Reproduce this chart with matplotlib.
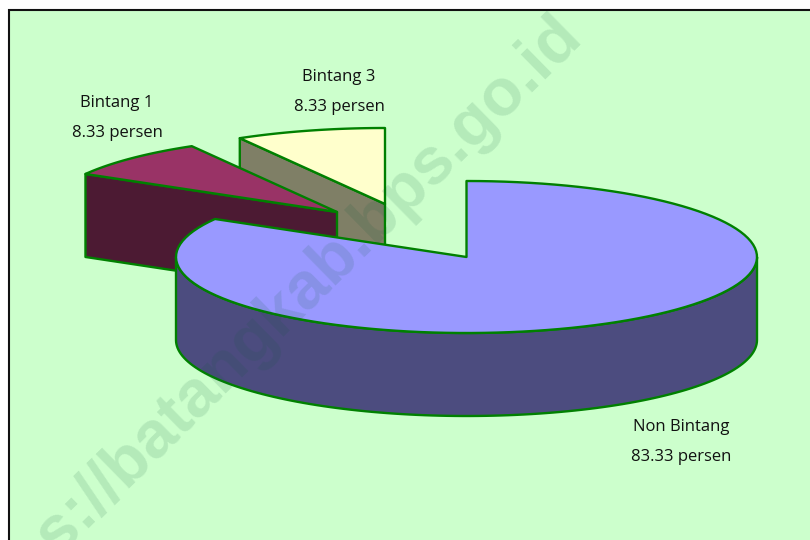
import numpy as np
import matplotlib
matplotlib.use("Agg")
import matplotlib.pyplot as plt
from matplotlib.patches import Polygon, Rectangle

categories = ["Non Bintang", "Bintang 1", "Bintang 3"]
values = [83.33, 8.33, 8.33]
unit = "persen"

# layout (pixels)
apexes = [(466.5, 257), (337, 212), (385, 204)]
label_pos = [(681, 427), (117, 103), (339, 77)]
top_colors = ["#9999FF", "#993366", "#FFFFCC"]
side_colors = ["#4C4C7F", "#4C1A33", "#7F7F66"]
RX, RY, DEPTH = 290.5, 76, 83
EDGE = "#008000"

fig = plt.figure(figsize=(8.1, 5.4), dpi=100, facecolor="white")
ax = fig.add_axes([0, 0, 1, 1])
ax.set_xlim(0, 810)
ax.set_ylim(540, 0)
ax.axis("off")

ax.add_patch(Rectangle((8.5, 10), 900, 700, facecolor="#CCFFCC", edgecolor="#111111", lw=1.5, zorder=0))


def rim(c, a0, a1, n=120):
    t = np.radians(np.linspace(a0, a1, n))
    return np.column_stack([c[0] + RX * np.sin(t), c[1] - RY * np.cos(t)])


total = sum(values)
bounds = np.concatenate([[0], np.cumsum(values) / total * 360])
slices = [(i, bounds[i], bounds[i + 1]) for i in range(len(values))]

z = 2
for i, a0, a1 in [slices[2], slices[1], slices[0]]:
    c = np.array(apexes[i], float)
    down = np.array([0, DEPTH])
    if i == 0:
        arc = rim(c, 90, 270)
        wall = np.vstack([arc, (arc + down)[::-1]])
    else:
        p = rim(c, a0, a0, 1)[0]
        wall = np.array([p, c, c + down, p + down])
    ax.add_patch(Polygon(wall, closed=True, facecolor=side_colors[i], edgecolor=EDGE, lw=1.7, joinstyle="round", zorder=z))
    top = np.vstack([c, rim(c, a0, a1)])
    ax.add_patch(Polygon(top, closed=True, facecolor=top_colors[i], edgecolor=EDGE, lw=1.7, joinstyle="round", zorder=z + 1))
    z += 2

for name, v, (x, y) in zip(categories, values, label_pos):
    ax.text(x, y, name, ha="center", va="center", fontsize=12, family="Open Sans", color="#111111", zorder=20)
    ax.text(x, y + 30, f"{v:.2f} {unit}", ha="center", va="center", fontsize=12, family="Open Sans", color="#111111", zorder=20)

ax.text(572, 26, "https://batangkab.bps.go.id", rotation=44.5, rotation_mode="anchor", ha="right", va="center",
        fontsize=47.5, fontweight="bold", family="Liberation Sans", color="#0F5A3C", alpha=0.13, zorder=30)

fig.savefig("out.png", dpi=100)
